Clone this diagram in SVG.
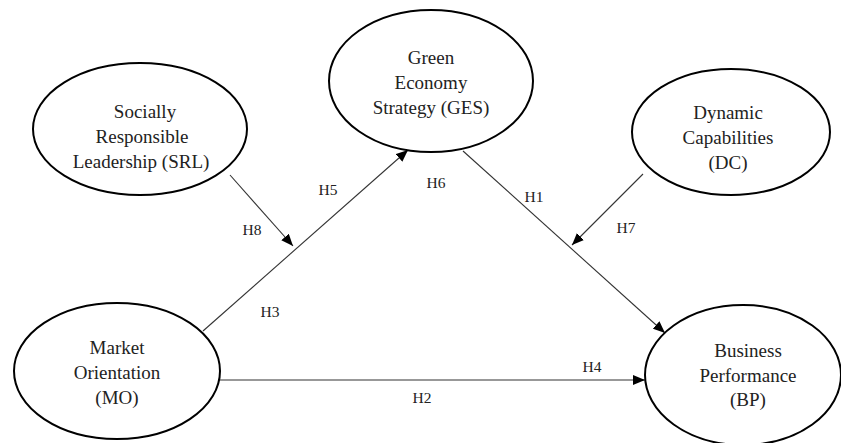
<svg xmlns="http://www.w3.org/2000/svg" width="841" height="443" viewBox="0 0 841 443">
<style>
.node ellipse{fill:#fff;stroke:#000;stroke-width:2}
.node text{font-family:"Liberation Serif","Times New Roman",serif;font-size:19px;fill:#222;text-anchor:middle}
.conn line{stroke:#333;stroke-width:1.1}
.lbl{font-family:"Liberation Serif","Times New Roman",serif;font-size:15.5px;fill:#222;text-anchor:middle}
</style>
<defs>
<marker id="ah" viewBox="0 0 12 10" refX="12" refY="5" markerWidth="12" markerHeight="10" markerUnits="userSpaceOnUse" orient="auto">
<path d="M0,0 L12,5 L0,10 Z" fill="#000"/>
</marker>
</defs>
<g id="connectors" class="conn">
<line x1="203" y1="331" x2="408" y2="150" marker-end="url(#ah)"/>
<line x1="230" y1="175" x2="293" y2="246" marker-end="url(#ah)"/>
<line x1="463" y1="151" x2="665" y2="333" marker-end="url(#ah)"/>
<line x1="643" y1="174" x2="572" y2="245" marker-end="url(#ah)"/>
<line x1="220" y1="380" x2="645" y2="380" marker-end="url(#ah)"/>
</g>
<g id="labels">
<text class="lbl" x="328" y="195">H5</text>
<text class="lbl" x="436" y="188">H6</text>
<text class="lbl" x="534" y="202">H1</text>
<text class="lbl" x="252" y="235">H8</text>
<text class="lbl" x="270" y="317">H3</text>
<text class="lbl" x="626" y="233">H7</text>
<text class="lbl" x="592" y="372">H4</text>
<text class="lbl" x="422" y="403">H2</text>
</g>
<g id="SRL" class="node">
<ellipse cx="140" cy="129" rx="107" ry="66"/>
<text x="145" y="118">Socially</text>
<text x="142" y="143">Responsible</text>
<text x="141" y="168">Leadership (SRL)</text>
</g>
<g id="GES" class="node">
<ellipse cx="431" cy="81" rx="102" ry="71"/>
<text x="431" y="64">Green</text>
<text x="431" y="89">Economy</text>
<text x="431" y="114">Strategy (GES)</text>
</g>
<g id="DC" class="node">
<ellipse cx="731" cy="132" rx="99" ry="63"/>
<text x="728" y="119">Dynamic</text>
<text x="728" y="144">Capabilities</text>
<text x="728" y="169">(DC)</text>
</g>
<g id="MO" class="node">
<ellipse cx="117" cy="371" rx="103" ry="68"/>
<text x="117" y="354">Market</text>
<text x="117" y="379">Orientation</text>
<text x="117" y="404">(MO)</text>
</g>
<g id="BP" class="node">
<ellipse cx="743" cy="375" rx="98" ry="70"/>
<text x="748" y="357">Business</text>
<text x="748" y="382">Performance</text>
<text x="748" y="406">(BP)</text>
</g>
</svg>
